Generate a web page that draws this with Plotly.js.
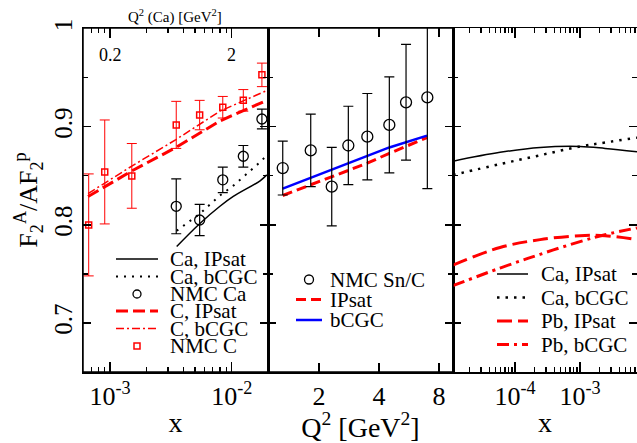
<!DOCTYPE html>
<html><head><meta charset="utf-8">
<script src="https://cdn.plot.ly/plotly-3.0.1.min.js"></script>
<style>html,body{margin:0;padding:0;background:#fff}</style>
</head><body><div id="chart" style="width:637px;height:443px"></div>
<script>
// ---------- Left panel (x) ----------
const nmcCX = [6.68e-4, 9.05e-4, 1.51e-3, 3.5e-3, 5.45e-3, 8.44e-3, 1.245e-2, 1.77e-2];
const nmcC = [0.800, 0.854, 0.850, 0.902, 0.912, 0.920, 0.927, 0.953];
const nmcCErr = [0.052, 0.053, 0.033, 0.024, 0.015, 0.011, 0.011, 0.012];
const nmcCaX = [3.5e-3, 5.45e-3, 8.44e-3, 1.245e-2, 1.77e-2];
const nmcCa = [0.819, 0.805, 0.846, 0.870, 0.908];
const nmcCaErr = [0.028, 0.016, 0.013, 0.011, 0.010];
const cCurveX = [6.6e-4, 1e-3, 1.51e-3, 3.48e-3, 8.0e-3, 1.94e-2];
const cIPsat = [0.829, 0.842, 0.855, 0.879, 0.906, 0.927];
const cBCGC = [0.832, 0.846, 0.860, 0.887, 0.916, 0.937];
const caCurveX = [3.53e-3, 5.42e-3, 8.0e-3, 1.03e-2, 1.71e-2, 1.94e-2];
const caIPsat = [0.778, 0.801, 0.819, 0.829, 0.845, 0.851];
const caBCGC = [0.794, 0.811, 0.830, 0.840, 0.864, 0.871];
// ---------- Middle panel (Q^2) ----------
const snQ2 = [1.315, 1.817, 2.316, 2.805, 3.493, 4.504, 5.463, 6.987];
const snRatio = [0.858, 0.876, 0.839, 0.881, 0.890, 0.902, 0.925, 0.930];
const snErr = [0.0275, 0.037, 0.040, 0.040, 0.044, 0.049, 0.059, 0.093];
const midQ2 = [1.315, 2.316, 3.493, 4.504, 6.96];
const midIPsat = [0.830, 0.849, 0.863, 0.873, 0.889];
const midBCGC = [0.837, 0.856, 0.870, 0.879, 0.891];
// ---------- Right panel (x, small) ----------
const rightX = [1.11e-5, 5.88e-5, 2.43e-4, 1e-3, 2.43e-3, 7.53e-3];
const rCaIPsat = [0.865, 0.874, 0.879, 0.880, 0.878, 0.8745];
const rCaBCGC = [0.851, 0.862, 0.871, 0.880, 0.884, 0.889];
const rPbIPsat = [0.759, 0.777, 0.785, 0.789, 0.789, 0.785];
const rPbBCGC = [0.738, 0.756, 0.770, 0.783, 0.790, 0.797];
// ---------- Tick labels / legends ----------
const yTickVals = [0.7, 0.8, 0.9, 1.0];
const yTickText = ['0.7', '0.8', '0.9', '1'];
const yMinorVals = [0.75, 0.85, 0.95];
const leftXTicks = [1e-3, 1e-2];
const leftXText = ['10<sup>-3</sup>', '10<sup>-2</sup>'];
const topQ2Ticks = [0.2, 2];
const topQ2Text = ['0.2', '2'];
const Q2_PER_X = 200;
const midTicks = [2, 4, 8];
const midText = ['2', '4', '8'];
const rightXTicks = [1e-4, 1e-3];
const rightXText = ['10<sup>-4</sup>', '10<sup>-3</sup>'];
const leftLegend = ['Ca, IPsat', 'Ca, bCGC', 'NMC Ca', 'C, IPsat', 'C, bCGC', 'NMC C'];
const midLegend = ['NMC Sn/C', 'IPsat', 'bCGC'];
const rightLegend = ['Ca, IPsat', 'Ca, bCGC', 'Pb, IPsat', 'Pb, bCGC'];
const topTitle = 'Q<sup>2</sup> (Ca) [GeV<sup>2</sup>]';

const FONT = "'Liberation Serif', 'Times New Roman', serif";
const RED = '#ff0000', BLUE = '#0000ff', BLK = '#000000';
const f = (s) => ({family: FONT, size: s, color: BLK});
const S = {
  caIP: {color: BLK, width: 1.5, dash: 'solid'},
  caB: {color: BLK, width: 2, dash: '2px,6px'},
  cIP: {color: RED, width: 3, dash: '12px,5px'},
  cB: {color: RED, width: 1.5, dash: '8px,3px,2px,3px'},
  midIP: {color: RED, width: 3, dash: '10px,5px'},
  midB: {color: BLUE, width: 2.5, dash: 'solid'},
  rCaB: {color: BLK, width: 2.5, dash: '2.5px,6px'},
  pbIP: {color: RED, width: 3, dash: '15px,6px'},
  pbB: {color: RED, width: 3, dash: '12px,5px,3px,5px'}
};

const minorLog = [];
for (let e = -6; e <= 1; e++) for (let d = 2; d <= 9; d++) minorLog.push(d * Math.pow(10, e));

const traces = [
  {x: cCurveX, y: cIPsat, mode: 'lines', line: S.cIP, xaxis: 'x', yaxis: 'y'},
  {x: cCurveX, y: cBCGC, mode: 'lines', line: S.cB, xaxis: 'x', yaxis: 'y'},
  {x: caCurveX, y: caIPsat, mode: 'lines', line: Object.assign({shape: 'spline'}, S.caIP), xaxis: 'x', yaxis: 'y'},
  {x: caCurveX, y: caBCGC, mode: 'lines', line: S.caB, xaxis: 'x', yaxis: 'y'},
  {x: nmcCX, y: nmcC, mode: 'markers', xaxis: 'x', yaxis: 'y',
   marker: {symbol: 'square-open', size: 6, color: RED, line: {width: 1.5, color: RED}},
   error_y: {type: 'data', array: nmcCErr, color: RED, thickness: 1, width: 5}},
  {x: nmcCaX, y: nmcCa, mode: 'markers', xaxis: 'x', yaxis: 'y',
   marker: {symbol: 'circle-open', size: 10, color: BLK, line: {width: 1.3, color: BLK}},
   error_y: {type: 'data', array: nmcCaErr, color: BLK, thickness: 1.2, width: 5}},
  {x: midQ2, y: midIPsat, mode: 'lines', line: S.midIP, xaxis: 'x2', yaxis: 'y2'},
  {x: midQ2, y: midBCGC, mode: 'lines', line: S.midB, xaxis: 'x2', yaxis: 'y2'},
  {x: snQ2, y: snRatio, mode: 'markers', xaxis: 'x2', yaxis: 'y2',
   marker: {symbol: 'circle-open', size: 11, color: BLK, line: {width: 1.3, color: BLK}},
   error_y: {type: 'data', array: snErr, color: BLK, thickness: 1.2, width: 5}},
  {x: rightX, y: rCaIPsat, mode: 'lines', line: Object.assign({shape: 'spline'}, S.caIP), xaxis: 'x3', yaxis: 'y3'},
  {x: rightX, y: rCaBCGC, mode: 'lines', line: Object.assign({shape: 'spline'}, S.rCaB), xaxis: 'x3', yaxis: 'y3'},
  {x: rightX, y: rPbIPsat, mode: 'lines', line: Object.assign({shape: 'spline'}, S.pbIP), xaxis: 'x3', yaxis: 'y3'},
  {x: rightX, y: rPbBCGC, mode: 'lines', line: Object.assign({shape: 'spline'}, S.pbB), xaxis: 'x3', yaxis: 'y3'}
];

// layout geometry (px)
const L = 83, T = 28, W = 554, H = 344;
const px = v => (v - L) / W;
const py = v => (T + H - v) / H;
const d1 = 185 / W, d2 = 370 / W;

const axBase = {showline: true, linewidth: 1.5, linecolor: BLK, ticks: 'inside', tickcolor: BLK,
  tickwidth: 1.2, showgrid: false, zeroline: false, fixedrange: true, mirror: 'allticks'};
const minorX = {tickmode: 'array', tickvals: minorLog, ticks: 'inside', ticklen: 5, tickcolor: BLK, tickwidth: 1.2};
const yBase = Object.assign({}, axBase, {range: [0.65, 1.0008], tickvals: yTickVals, ticktext: yTickText,
  ticklen: 8, domain: [0, 1],
  minor: {tickmode: 'array', tickvals: yMinorVals, ticks: 'inside', ticklen: 5, tickcolor: BLK, tickwidth: 1.2}});

const layout = {
  width: 637, height: 443, margin: {l: L, r: 0, t: T, b: 71},
  paper_bgcolor: '#fff', plot_bgcolor: 'rgba(0,0,0,0)', showlegend: false,
  font: f(20),
  xaxis: Object.assign({}, axBase, {domain: [0, d1], type: 'log', range: [-3.222, -1.702], anchor: 'y',
    tickvals: leftXTicks, ticktext: leftXText, ticklen: 10, tickfont: f(26), minor: minorX,
    title: {text: 'x', font: f(28), standoff: 2}}),
  xaxis2: Object.assign({}, axBase, {domain: [d1, d2], type: 'log', range: [0.045, 0.973], anchor: 'y2',
    tickvals: midTicks, ticktext: midText, ticklen: 9, tickfont: f(26),
    title: {text: 'Q<sup>2</sup> [GeV<sup>2</sup>]', font: f(28), standoff: 0}}),
  xaxis3: Object.assign({}, axBase, {domain: [d2, 1], type: 'log', range: [-4.954, -2.123], anchor: 'y3',
    tickvals: rightXTicks, ticktext: rightXText, ticklen: 10, tickfont: f(26), minor: minorX,
    title: {text: 'x', font: f(28), standoff: 2}}),
  yaxis: Object.assign({}, yBase, {anchor: 'x', tickangle: -90, tickfont: f(25),
    title: {text: 'F<sub>2</sub><sup>A</sup>/AF<sub>2</sub><sup>p</sup>', font: f(26), standoff: 4}}),
  yaxis2: Object.assign({}, yBase, {anchor: 'x2', showticklabels: false}),
  yaxis3: Object.assign({}, yBase, {anchor: 'x3', showticklabels: false}),
  shapes: [], annotations: []
};

// frames of the left and middle panels
[['x', 'y'], ['x2', 'y2']].forEach(([xa, ya]) => layout.shapes.push({type: 'rect', xref: xa + ' domain', yref: ya + ' domain',
  x0: 0, x1: 1, y0: 0, y1: 1, line: {color: BLK, width: 1.5}, fillcolor: 'rgba(0,0,0,0)'}));

// top Q^2(Ca) scale of the left panel (Q^2 = 200 x), labels placed through the x axis
topQ2Ticks.forEach((q, i) => layout.annotations.push({xref: 'x', yref: 'paper', x: Math.log10(q / Q2_PER_X), y: py(55),
  text: topQ2Text[i], showarrow: false, xanchor: 'center', yanchor: 'middle', font: f(18)}));
layout.annotations.push({xref: 'paper', yref: 'paper', x: px(175), y: py(17), text: topTitle, showarrow: false,
  xanchor: 'center', yanchor: 'middle', font: f(15)});

function addLine(x0, x1, y, st) {
  layout.shapes.push({type: 'line', xref: 'paper', yref: 'paper', x0: px(x0), x1: px(x1), y0: py(y), y1: py(y),
    line: {color: st.color, width: st.width, dash: st.dash}});
}
function addCircle(cx, cy, r, color) {
  layout.shapes.push({type: 'circle', xref: 'paper', yref: 'paper', x0: px(cx - r), x1: px(cx + r),
    y0: py(cy + r), y1: py(cy - r), line: {color: color, width: 1.3}});
}
function addSquare(cx, cy, r, color) {
  layout.shapes.push({type: 'rect', xref: 'paper', yref: 'paper', x0: px(cx - r), x1: px(cx + r),
    y0: py(cy + r), y1: py(cy - r), line: {color: color, width: 1.5}});
}
function addText(x, y, t) {
  layout.annotations.push({xref: 'paper', yref: 'paper', x: px(x), y: py(y), text: t, showarrow: false,
    xanchor: 'left', yanchor: 'middle', font: f(21)});
}
// left legend
const lRows = [259, 276.5, 294, 311, 328.5, 346];
addLine(116, 158, lRows[0], S.caIP);
addLine(116, 158, lRows[1], S.caB);
addCircle(137, lRows[2], 4, BLK);
addLine(116, 158, lRows[3], S.cIP);
addLine(116, 158, lRows[4], S.cB);
addSquare(137, lRows[5], 3, RED);
leftLegend.forEach((t, i) => addText(168, lRows[i], t));
// middle legend
const mRows = [279.5, 299.5, 320];
addCircle(309, mRows[0], 4.5, BLK);
addLine(296, 322, mRows[1], S.midIP);
addLine(296, 322, mRows[2], S.midB);
midLegend.forEach((t, i) => addText(328, mRows[i], t));
// right legend
const rRows = [274, 297.5, 321, 344.5];
addLine(497, 528, rRows[0], S.caIP);
addLine(497, 528, rRows[1], S.rCaB);
addLine(497, 528, rRows[2], S.pbIP);
addLine(497, 528, rRows[3], S.pbB);
rightLegend.forEach((t, i) => addText(539, rRows[i], t));

Plotly.newPlot('chart', traces, layout, {staticPlot: true, displayModeBar: false});
</script></body></html>
